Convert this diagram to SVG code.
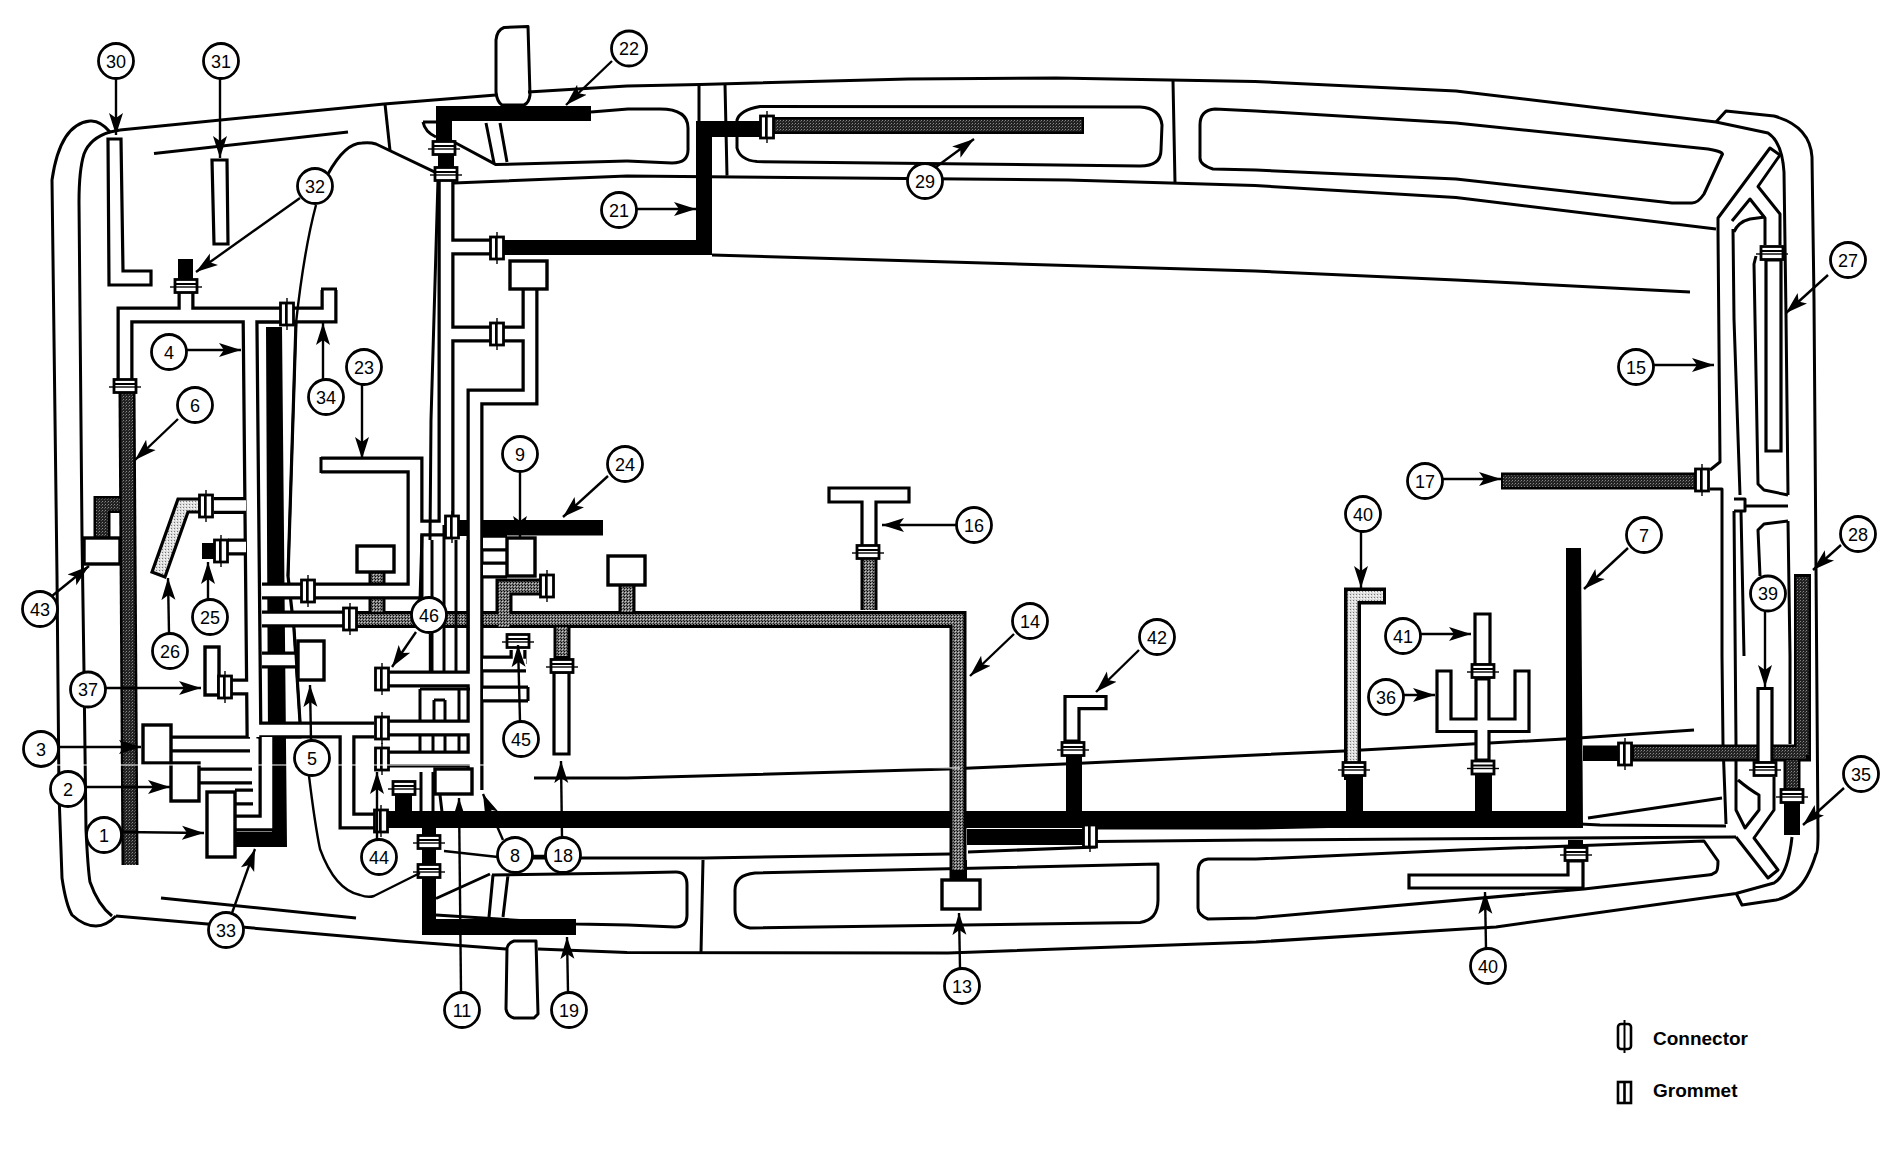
<svg xmlns="http://www.w3.org/2000/svg" width="1884" height="1152" viewBox="0 0 1884 1152">
<style>
.l{fill:none;stroke:#000;stroke-width:3;stroke-linejoin:round}
.t{fill:none;stroke:#000;stroke-width:3}
.wo{fill:none;stroke:#000;stroke-width:17;stroke-linejoin:miter}
.wf{fill:none;stroke:#fff;stroke-width:10.5;stroke-linejoin:miter}
.wp{fill:#fff;stroke:#000;stroke-width:3.2}
.so{fill:none;stroke:#000;stroke-width:17}
.sm{fill:none;stroke:url(#mid);stroke-width:11}
.sd{fill:none;stroke:url(#dark);stroke-width:12}
.box{fill:#fff;stroke:#000;stroke-width:3.4}
.ld{fill:none;stroke:#000;stroke-width:2.4;marker-end:url(#arr)}
.ln{fill:none;stroke:#000;stroke-width:2.4}
.c{fill:#fff;stroke:#000;stroke-width:2.8}
.n{font-family:"Liberation Sans",Arial,sans-serif;font-size:18px;text-anchor:middle;fill:#000}
.lg{font-family:"Liberation Sans",Arial,sans-serif;font-size:19px;font-weight:bold;fill:#000}
</style>
<defs>
<pattern id="mid" width="3" height="3" patternUnits="userSpaceOnUse"><rect width="3" height="3" fill="#777"/><rect width="1" height="1" fill="#000"/><rect x="1" y="1" width="1" height="1" fill="#ccc"/><rect x="2" y="2" width="1" height="1" fill="#222"/></pattern>
<pattern id="dark" width="3" height="3" patternUnits="userSpaceOnUse"><rect width="3" height="3" fill="#222"/><rect width="1" height="1" fill="#888"/><rect x="2" y="1" width="1" height="1" fill="#555"/></pattern>
<pattern id="light" width="3" height="3" patternUnits="userSpaceOnUse"><rect width="3" height="3" fill="#ddd"/><rect width="1" height="1" fill="#777"/><rect x="2" y="1" width="1" height="1" fill="#fff"/></pattern>
<marker id="arr" markerUnits="userSpaceOnUse" markerWidth="24" markerHeight="18" refX="22" refY="8" orient="auto"><path d="M0,1 L22,8 L0,15 L5,8 Z" fill="#000"/></marker>
<g id="ch"><rect x="-11" y="-6.5" width="22" height="13" fill="#fff" stroke="#000" stroke-width="2.8"/><path d="M-11,-2H11" stroke="#000" stroke-width="2"/><path d="M-16,1H16" stroke="#000" stroke-width="1.4"/></g>
<g id="cv"><rect x="-6.5" y="-11" width="13" height="22" fill="#fff" stroke="#000" stroke-width="2.8"/><path d="M-1,-11V11" stroke="#000" stroke-width="2"/><path d="M0,-16V16" stroke="#000" stroke-width="1.4"/></g>
</defs>
<rect width="1884" height="1152" fill="#fff"/>

<g id="body">
<path class="l" d="M120,130L384,104L496,95M528,92L627,86L700,84.5L908,79L1056,78L1255,81.5L1456,91L1716,122L1768,133Q1782,142 1784,172L1786,315L1788,495M1788,521L1790,656L1790,744"/>
<path class="l" d="M1716,122L1726,111L1774,116Q1810,126 1812,157L1814,300L1816,568L1818,835Q1818,854 1816,854Q1808,880 1796,890Q1786,898 1776,900L1742,905L1736,893"/>
<path class="l" d="M116,916L400,941L506,949M538,949L627,952.5L948,953L1256,942L1496,927L1736,893.5L1774,883Q1788,875 1792,837"/>
<path class="l" d="M120,130L110,132Q100,120 90,121Q60,124 52,180L57,576L59,794L62,878Q66,905 72,915Q84,926 96,926Q106,926 116,916"/>
<path class="l" d="M110,132Q90,138 84,154Q79,170 79,202L82,536L84,672L86,830Q88,870 90,882Q98,905 112,916"/>
<path class="l" d="M154,153.5L348,132"/>
<path class="l" d="M161,898L356,918"/>
<path class="l" d="M385,104L390,150.6"/>
<path class="l" d="M328,174Q345,143 362,143Q370,142 376,144L436,172.6"/>
<path class="l" d="M452,141L496,164.6L627,161M486,123L494,163M500,123L507,162M423,122H436M423,122Q425,132 436,137"/>
<path class="l" d="M454,183L627,176L1068,180L1255,185.5L1456,197.6L1716,229"/>
<path class="l" d="M712,255L1255,271L1456,280L1690,292"/>
<path class="l" d="M591,112L628,109H660Q688,109 688,128V150Q688,163 672,163L627,161"/>
<path class="l" d="M760,106.5Q740,110 737,120V148Q740,160 757,161.6L1140,166Q1161,166 1161,150L1162,125Q1160,108 1140,107L760,106.5Z"/>
<path class="l" d="M699,84.5V121M725,84L727,175.6M1173,81L1175,183"/>
<path class="l" d="M1256,111L1456,123L1708,149Q1725,152 1722,155L1704,194Q1698,203 1692,203L1672,203L1456,179L1256,170L1213,169Q1200,165 1200,158V125Q1200,110 1215,109L1256,111"/>
<path class="l" d="M492,875L628,873L676,872Q687,872 687,885V915Q687,927 675,927L628,925L576,924M436,898.5L490,874M493,875L489,917M508,875L503,917M436,915L576,924"/>
<path class="l" d="M703,860L701,952.5"/>
<path class="l" d="M533,858H704L950,854M968,852L1096,847"/>
<path class="l" d="M755,873L1158,864Q1158,872 1158,900Q1158,920 1140,922.4L750,928Q735,925 735,910V890Q735,875 755,873Z"/>
<path class="l" d="M1256,859L1460,850L1704,841L1718,861Q1718,870 1716,872Q1712,875 1708,875L1584,889L1256,918L1208,919Q1198,915 1198,908V872Q1198,860 1208,859L1256,859"/>
<path class="l" d="M534,778H627L948,769L1064,764L1256,755L1344,751L1564,739L1694,730"/>
<path class="l" d="M1588,818L1722,798"/>
<path class="l" d="M1096,828L1256,828L1540,822L1600,825L1726,826M1096,841.6L1256,840L1736,837"/>
<path class="l" d="M1718,231V218L1770,148L1780,155L1758,186.5L1780,214V245M1732,221L1750,199L1765,218V245"/>
<path class="l" d="M1718,231L1720,462L1710,470M1710,489L1722,489L1722,656L1723,744L1726,824"/>
<path class="l" d="M1734,511L1736,744V810L1745,828L1759,810V795Q1750,790 1738,780"/>
<path class="l" d="M1733,229L1734,319L1740,495" stroke-width="4"/>
<path class="l" d="M1734,499H1745V511H1734M1741,511L1744,656"/>
<path class="l" d="M1734,232Q1738,222 1750,219L1765,217"/>
<path class="l" d="M1736,837L1768,878L1778,870L1754,838L1774,810V777"/>
<path class="l" d="M1756,256L1754,264L1758,484L1764,490L1788,495M1746,506H1788M1760,576L1758,530L1764,524L1788,521"/>
</g>

<g id="mirrors">
<path class="l" d="M496,92V40Q497,30 504,27.5L528,26.5L530,95Q529,103 524,105H502Q497,102 496,92Z"/>
<path class="l" d="M507,948Q508,943 514,941H536L538,1014L534,1018H514Q507,1016 506,1009Z"/>
</g>

<g id="harness-white-back">
<path class="wp" d="M256,322H296L288,576L294,629L300,722V737H258Z"/>
</g>

<g id="harness-black">
<path d="M266,327H282L287,847H236V832H272L268,737Z" fill="#000"/>
<path d="M386,811H1566V548H1581L1583,828H386Z" fill="#000"/>
<path d="M436,106H591V121H452V142H436Z" fill="#000"/>
<path d="M438,152H454V168H438Z" fill="#000"/>
<path d="M503,240H696V121H694V121H760V137H712V255H503Z" fill="#000"/>
<path d="M480,520H603V535.5H480ZM458,520H470V536H458Z" fill="#000"/>
<path d="M422,848H436V919H576V935H422Z" fill="#000"/>
<path d="M422,828H436V836H422Z" fill="#000"/>
<path d="M395,794H412V812H395Z" fill="#000"/>
<path d="M178,259H193V281H178Z" fill="#000"/>
<path d="M202,543H214V559H202Z" fill="#000"/>
<path d="M1066,755H1082V812H1066ZM1346,776H1363V812H1346ZM1475,775H1492V812H1475Z" fill="#000"/>
<path d="M967,829H1084V845H967Z" fill="#000"/>
<path d="M1583,745.5H1620V761H1583Z" fill="#000"/>
<path d="M1784,802H1800V835H1784Z" fill="#000"/>
<path d="M1568,840H1583V850H1568Z" fill="#000"/>
<path d="M951,860H967V882H951Z" fill="#000"/>
</g>

<g id="harness-grey">
<path class="so" d="M356,619.5H958V880"/>
<path class="so" d="M504,627V587H541"/>
<path class="so" d="M377,572V612M627,585V612M869,559V610M562,627V660"/>
<path class="sm" d="M356,619.5H958V870"/>
<path class="sm" d="M504,627V587H541"/>
<path class="sm" d="M377,572V612M627,585V612M869,559V610M562,627V656"/>
<path class="so" d="M127,393L130,865"/>
<path class="sd" d="M127,393L130,865"/>
<path class="so" d="M120,504.5H102V540"/>
<path class="sd" d="M120,504.5H102V540"/>
<path class="so" d="M773,125.5H1084"/>
<path class="sd" d="M773,125.5H1082"/>
<path class="so" d="M1501,481H1696"/>
<path class="sd" d="M1503,481H1696"/>
<path class="so" d="M1632,753H1811M1802.5,574V761M1792,761V796"/>
<path class="sd" d="M1634,753H1806M1802.5,577V755M1792,760V792"/>
<path d="M178,499H200V512H188L165,577L152,572Z" fill="url(#light)" stroke="#000" stroke-width="3.2"/>
<path d="M1352.5,780V596H1386" fill="none" stroke="#000" stroke-width="17"/>
<path d="M1352.5,770V596H1383" fill="none" stroke="url(#light)" stroke-width="10"/>
</g>

<g id="harness-white">
<path class="wo" d="M125,380V315H280M294,315H329V290M186,290V315M250,315L254,737M258,730H374M347,730V821H374M382,728H470M382,759H472M382,679H470M214,505.5H246M228,547H246M232,687H250M171,744H250M199,776H252M235,797H253M262,591H320M262,619H350M262,660H298M267,737V823H236M321,465H415V591H320M415,528H446M446,180V527M446,247H490M446,334H490M503,334H530M530,289V397H475V790M483,543H507M483,570H507M483,664H526M518,650V664M483,694H528"/>
<path class="wf" d="M125,380V315H280M294,315H329V290M186,290V315M250,315L254,737M258,730H374M347,730V821H374M382,728H470M382,759H472M382,679H470M214,505.5H246M228,547H246M232,687H250M171,744H250M199,776H252M235,797H253M262,591H320M262,619H350M262,660H298M267,737V823H236M321,465H415V591H320M415,528H446M446,180V527M446,247H490M446,334H490M503,334H530M530,289V397H475V790M483,543H507M483,570H507M483,664H526M518,650V664M483,694H528"/>
<path class="t" d="M321,457V473M321,289H337M528,687V701"/>
<path class="l" d="M438,180L431,420L430,540M422,535L420,600M432,540V671M444,525V671M456,540V671M468,540V671M420,689H470M420,689V722M434,700H445M434,700V722M445,700V722M459,689V722M420,736V752M433,736V752M445,736V752M459,736V752M421,772V812M433,772V815M440,795L442,812"/>
<path class="wp" d="M108,139H121L123,271H151V285H109Z"/>
<path class="wp" d="M212,160H227L228,244H214Z"/>
<path class="wp" d="M829,488H909V502H876V548H862V502H829Z"/>
<path class="wp" d="M554,672H569V754H554Z"/>
<path class="wp" d="M1065,696.5H1106V708.6H1079V741H1065Z"/>
<path class="wp" d="M1475,614H1490V665H1475Z"/>
<path class="wp" d="M1437,671H1451V719H1476V679H1489V719H1515V671H1529V731.5H1489V760H1476V731.5H1437Z"/>
<path class="wp" d="M1758,688.5H1772V763H1758Z"/>
<path class="wp" d="M1766,260H1781V451H1766Z"/>
<path class="wp" d="M1409,875H1568V861H1583V888H1409Z"/>
</g>

<g id="boxes">
<rect id="box-1" class="box" x="207" y="792" width="28" height="65"/>
<rect id="box-2" class="box" x="171" y="763" width="28" height="38"/>
<rect id="box-3" class="box" x="143" y="725" width="28" height="38"/>
<rect id="box-5" class="box" x="298" y="641" width="26" height="39"/>
<rect id="box-9" class="box" x="507" y="538" width="28" height="38"/>
<rect id="box-11" class="box" x="435" y="769" width="37" height="25"/>
<rect id="box-13" class="box" x="942" y="880" width="38" height="29"/>
<rect id="box-37" class="box" x="205" y="647" width="14" height="48"/>
<rect id="box-43" class="box" x="84" y="538" width="36" height="26"/>
<rect id="box-a" class="box" x="357" y="546" width="37" height="26"/>
<rect id="box-b" class="box" x="510" y="261" width="37" height="28"/>
<rect id="box-c" class="box" x="608" y="556" width="37" height="29"/>
</g>

<g id="harness-connectors">
<use href="#ch" x="125" y="386"/><use href="#ch" x="186" y="286"/><use href="#ch" x="444" y="148"/><use href="#ch" x="446" y="174"/>
<use href="#ch" x="1772" y="253"/><use href="#ch" x="868" y="552"/><use href="#ch" x="562" y="666"/><use href="#ch" x="518" y="641"/>
<use href="#ch" x="1073" y="749"/><use href="#ch" x="1354" y="769"/><use href="#ch" x="1483" y="671"/><use href="#ch" x="1483" y="767.5"/>
<use href="#ch" x="1765" y="769"/><use href="#ch" x="1792" y="796"/><use href="#ch" x="1576" y="854"/><use href="#ch" x="429" y="842"/><use href="#ch" x="429" y="871"/><use href="#ch" x="404" y="788"/>
<use href="#cv" x="287" y="314"/><use href="#cv" x="206" y="506"/><use href="#cv" x="221" y="551"/><use href="#cv" x="225" y="687"/>
<use href="#cv" x="308" y="591"/><use href="#cv" x="350" y="619"/><use href="#cv" x="382" y="728"/><use href="#cv" x="382" y="759"/>
<use href="#cv" x="381" y="821"/><use href="#cv" x="452" y="527"/><use href="#cv" x="497" y="248"/><use href="#cv" x="497" y="334"/>
<use href="#cv" x="547" y="586"/><use href="#cv" x="382" y="679"/><use href="#cv" x="767" y="127"/><use href="#cv" x="1090" y="836"/>
<use href="#cv" x="1625" y="754"/><use href="#cv" x="1702" y="480"/>
</g>

<path d="M50,765H620L960,768" fill="none" stroke="#fff" stroke-width="1"/>

<g id="connectors">
<path class="ld" d="M116,79V135"/>
<path class="ld" d="M220,79V158"/>
<path class="ld" d="M300,198L196,272"/>
<path class="ln" d="M316,205Q304,250 296,323L288,576"/>
<path class="ln" d="M294,629L300,722"/>
<path class="ld" d="M187,350H241"/>
<path class="ld" d="M178,419L135,460"/>
<path class="ld" d="M323,379V323"/>
<path class="ld" d="M362,385V459"/>
<path class="ld" d="M520,472V538"/>
<path class="ld" d="M608,476L563,517"/>
<path class="ld" d="M52,596L89,566"/>
<path class="ld" d="M169,633L168,578"/>
<path class="ld" d="M208,599V562"/>
<path class="ld" d="M106,688H201"/>
<path class="ld" d="M59,747H141"/>
<path class="ld" d="M86,787H170"/>
<path class="ld" d="M122,832L204,833"/>
<path class="ld" d="M232,913L255,849"/>
<path class="ld" d="M311,740L310,685"/>
<path class="ln" d="M309,776Q315,825 320,849Q335,890 360,895Q368,898 374,896L420,873"/>
<path class="ld" d="M416,632L392,667"/>
<path class="ln" d="M430,634V671"/>
<path class="ld" d="M520,721L518,645"/>
<path class="ld" d="M377,839V772"/>
<path class="ld" d="M503,840L483,794"/>
<path class="ln" d="M444,851L498,857M533,856H545"/>
<path class="ld" d="M461,992L459,798"/>
<path class="ld" d="M562,837L561,761"/>
<path class="ld" d="M568,992L567,937"/>
<path class="ld" d="M612,61L566,105"/>
<path class="ld" d="M635,209H696"/>
<path class="ld" d="M936,167L974,139"/>
<path class="ld" d="M956,525H882"/>
<path class="ld" d="M1014,634L970,676"/>
<path class="ld" d="M1139,650L1096,692"/>
<path class="ld" d="M960,968L959,913"/>
<path class="ld" d="M1828,275L1786,313"/>
<path class="ld" d="M1654,365H1714"/>
<path class="ld" d="M1443,479H1501"/>
<path class="ld" d="M1361,532V588"/>
<path class="ld" d="M1628,548L1584,589"/>
<path class="ld" d="M1841,545L1813,570"/>
<path class="ld" d="M1765,612V687"/>
<path class="ld" d="M1419,634H1471"/>
<path class="ld" d="M1402,695H1435"/>
<path class="ld" d="M1844,788L1803,825"/>
<path class="ld" d="M1486,948L1485,892"/>
</g>

<g id="n1"><circle class="c" cx="104" cy="835" r="17.5"/><text class="n" x="104" y="841.5">1</text></g>
<g id="n2"><circle class="c" cx="68" cy="789" r="17.5"/><text class="n" x="68" y="795.5">2</text></g>
<g id="n3"><circle class="c" cx="41" cy="749" r="17.5"/><text class="n" x="41" y="755.5">3</text></g>
<g id="n4"><circle class="c" cx="169" cy="352" r="17.5"/><text class="n" x="169" y="358.5">4</text></g>
<g id="n5"><circle class="c" cx="312" cy="758" r="17.5"/><text class="n" x="312" y="764.5">5</text></g>
<g id="n6"><circle class="c" cx="195" cy="405" r="17.5"/><text class="n" x="195" y="411.5">6</text></g>
<g id="n7"><circle class="c" cx="1644" cy="535" r="17.5"/><text class="n" x="1644" y="541.5">7</text></g>
<g id="n8"><circle class="c" cx="515" cy="855" r="17.5"/><text class="n" x="515" y="861.5">8</text></g>
<g id="n9"><circle class="c" cx="520" cy="454" r="17.5"/><text class="n" x="520" y="460.5">9</text></g>
<g id="n11"><circle class="c" cx="462" cy="1010" r="17.5"/><text class="n" x="462" y="1016.5">11</text></g>
<g id="n13"><circle class="c" cx="962" cy="986" r="17.5"/><text class="n" x="962" y="992.5">13</text></g>
<g id="n14"><circle class="c" cx="1030" cy="621" r="17.5"/><text class="n" x="1030" y="627.5">14</text></g>
<g id="n15"><circle class="c" cx="1636" cy="367" r="17.5"/><text class="n" x="1636" y="373.5">15</text></g>
<g id="n16"><circle class="c" cx="974" cy="525" r="17.5"/><text class="n" x="974" y="531.5">16</text></g>
<g id="n17"><circle class="c" cx="1425" cy="481" r="17.5"/><text class="n" x="1425" y="487.5">17</text></g>
<g id="n18"><circle class="c" cx="563" cy="855" r="17.5"/><text class="n" x="563" y="861.5">18</text></g>
<g id="n19"><circle class="c" cx="569" cy="1010" r="17.5"/><text class="n" x="569" y="1016.5">19</text></g>
<g id="n21"><circle class="c" cx="619" cy="210" r="17.5"/><text class="n" x="619" y="216.5">21</text></g>
<g id="n22"><circle class="c" cx="629" cy="48.5" r="17.5"/><text class="n" x="629" y="55">22</text></g>
<g id="n23"><circle class="c" cx="364" cy="367" r="17.5"/><text class="n" x="364" y="373.5">23</text></g>
<g id="n24"><circle class="c" cx="625" cy="464" r="17.5"/><text class="n" x="625" y="470.5">24</text></g>
<g id="n25"><circle class="c" cx="210" cy="617" r="17.5"/><text class="n" x="210" y="623.5">25</text></g>
<g id="n26"><circle class="c" cx="170" cy="651" r="17.5"/><text class="n" x="170" y="657.5">26</text></g>
<g id="n27"><circle class="c" cx="1848" cy="260" r="17.5"/><text class="n" x="1848" y="266.5">27</text></g>
<g id="n28"><circle class="c" cx="1858" cy="534" r="17.5"/><text class="n" x="1858" y="540.5">28</text></g>
<g id="n29"><circle class="c" cx="925" cy="181" r="17.5"/><text class="n" x="925" y="187.5">29</text></g>
<g id="n30"><circle class="c" cx="116" cy="61" r="17.5"/><text class="n" x="116" y="67.5">30</text></g>
<g id="n31"><circle class="c" cx="221" cy="61" r="17.5"/><text class="n" x="221" y="67.5">31</text></g>
<g id="n32"><circle class="c" cx="315" cy="186" r="17.5"/><text class="n" x="315" y="192.5">32</text></g>
<g id="n33"><circle class="c" cx="226" cy="930" r="17.5"/><text class="n" x="226" y="936.5">33</text></g>
<g id="n34"><circle class="c" cx="326" cy="397" r="17.5"/><text class="n" x="326" y="403.5">34</text></g>
<g id="n35"><circle class="c" cx="1861" cy="774" r="17.5"/><text class="n" x="1861" y="780.5">35</text></g>
<g id="n36"><circle class="c" cx="1386" cy="697" r="17.5"/><text class="n" x="1386" y="703.5">36</text></g>
<g id="n37"><circle class="c" cx="88" cy="689.5" r="17.5"/><text class="n" x="88" y="696">37</text></g>
<g id="n39"><circle class="c" cx="1768" cy="593.5" r="17.5"/><text class="n" x="1768" y="600">39</text></g>
<g id="n40a"><circle class="c" cx="1363" cy="514" r="17.5"/><text class="n" x="1363" y="520.5">40</text></g>
<g id="n40b"><circle class="c" cx="1488" cy="966" r="17.5"/><text class="n" x="1488" y="972.5">40</text></g>
<g id="n41"><circle class="c" cx="1403" cy="636" r="17.5"/><text class="n" x="1403" y="642.5">41</text></g>
<g id="n42"><circle class="c" cx="1157" cy="637" r="17.5"/><text class="n" x="1157" y="643.5">42</text></g>
<g id="n43"><circle class="c" cx="40" cy="609" r="17.5"/><text class="n" x="40" y="615.5">43</text></g>
<g id="n44"><circle class="c" cx="379" cy="857" r="17.5"/><text class="n" x="379" y="863.5">44</text></g>
<g id="n45"><circle class="c" cx="521" cy="739" r="17.5"/><text class="n" x="521" y="745.5">45</text></g>
<g id="n46"><circle class="c" cx="429" cy="615" r="17.5"/><text class="n" x="429" y="621.5">46</text></g>

<g id="legend">
<rect x="1618" y="1024" width="13" height="25" rx="3" fill="#fff" stroke="#000" stroke-width="2.6"/>
<path d="M1624.5,1020V1053" stroke="#000" stroke-width="2" fill="none"/>
<text class="lg" x="1653" y="1045">Connector</text>
<rect x="1618" y="1082" width="13" height="21" fill="#fff" stroke="#000" stroke-width="2.6"/>
<path d="M1624.5,1082V1103" stroke="#000" stroke-width="2.6" fill="none"/>
<text class="lg" x="1653" y="1097">Grommet</text>
</g>
</svg>
